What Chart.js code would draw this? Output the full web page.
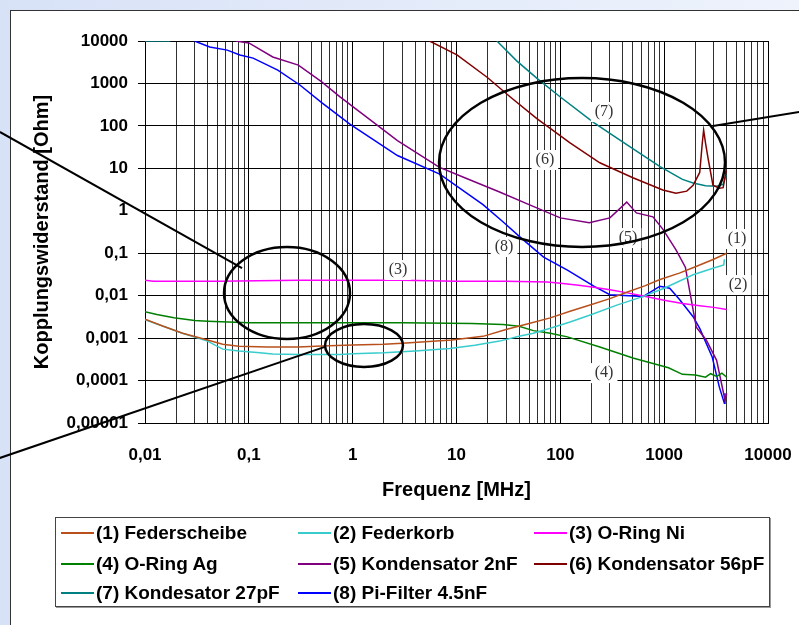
<!DOCTYPE html>
<html>
<head>
<meta charset="utf-8">
<script src="https://cdn.jsdelivr.net/npm/chart.js@4/dist/chart.umd.min.js"></script>
<style>
  body { margin: 0; width: 799px; height: 625px; overflow: hidden;
         background: linear-gradient(to right, #d8e2f7, #eef3fc); font-family: "Liberation Sans", Arial, sans-serif; }
  #frame { position: absolute; left: 10px; top: 10px; width: 789px; height: 615px; background: #fff;
           border-left: 1px solid #333; border-top: 1px solid #333; box-sizing: border-box; }
  #c { position: absolute; left: 0; top: 0; }
  #legend { position: absolute; left: 55px; top: 517px; width: 715px; height: 90px; box-sizing: border-box;
            border: 1px solid #444; box-shadow: 1px 1px 0 #999; background: #fff; }
  .item { position: absolute; font-weight: bold; font-size: 19px; line-height: 22px; white-space: nowrap; color: #000; }
  .item span.ln { display: inline-block; width: 33px; height: 2px; vertical-align: middle; margin-right: 2px; position: relative; top: -1px; }
</style>
</head>
<body>
<div id="frame"></div>
<canvas id="c" width="799" height="625"></canvas>
<div id="legend"></div>
<script>
// series names and colours
const seriesNames = ['(1) Federscheibe', '(2) Federkorb', '(3) O-Ring Ni', '(4) O-Ring Ag',
                     '(5) Kondensator 2nF', '(6) Kondensator 56pF', '(7) Kondesator 27pF', '(8) Pi-Filter 4.5nF'];
const seriesColors = ['#b8501c', '#38cccc', '#ff00ff', '#008000', '#800080', '#800000', '#008080', '#0000ff'];

// frequencies [MHz] and coupling resistance [Ohm]
const f1 = [0.01, 0.015, 0.023, 0.04, 0.056, 0.08, 0.15, 0.3, 0.5, 1, 2, 3, 5, 9, 18, 30, 50, 80, 124, 200, 300, 436, 650, 912, 1400, 2000, 3000, 4000];
const z1 = [0.0028, 0.0019, 0.0013, 0.0009, 0.00072, 0.00064, 0.00062, 0.00062, 0.00065, 0.00069, 0.00072, 0.00076, 0.00082, 0.0009, 0.0011, 0.0016, 0.0022, 0.003, 0.0043, 0.0062, 0.0085, 0.012, 0.017, 0.024, 0.034, 0.048, 0.072, 0.1];

const f2 = [0.01, 0.015, 0.023, 0.04, 0.056, 0.08, 0.12, 0.17, 0.3, 0.5, 0.75, 1, 2, 4, 8.6, 15, 26, 40, 55, 80, 124, 200, 350, 620, 1000, 1900, 3000, 3750, 3800];
const z2 = [0.0027, 0.0019, 0.0013, 0.00085, 0.00055, 0.0005, 0.00046, 0.00042, 0.00041, 0.00041, 0.00041, 0.00043, 0.00045, 0.0005, 0.00057, 0.00068, 0.00085, 0.0011, 0.0013, 0.0017, 0.0024, 0.0036, 0.006, 0.0095, 0.015, 0.031, 0.045, 0.053, 0.072];

const f3 = [0.01, 0.012, 0.05, 0.3, 1, 3, 10, 30, 75, 100, 150, 210, 300, 430, 630, 1000, 1500, 2200, 3000, 4000];
const z3 = [0.023, 0.022, 0.022, 0.023, 0.023, 0.023, 0.022, 0.022, 0.021, 0.0195, 0.0175, 0.0158, 0.0138, 0.0118, 0.0098, 0.0078, 0.0065, 0.0058, 0.0053, 0.0047];

const f4 = [0.01, 0.013, 0.019, 0.03, 0.04, 0.1, 0.3, 1, 3, 14, 28, 40, 55, 80, 117, 240, 500, 1100, 1500, 2000, 2500, 2800, 3200, 3600, 4000];
const z4 = [0.0042, 0.0036, 0.003, 0.0026, 0.0025, 0.0023, 0.0023, 0.0023, 0.0023, 0.0022, 0.0021, 0.0019, 0.0015, 0.0013, 0.00107, 0.00062, 0.00034, 0.0002, 0.00014, 0.000135, 0.00012, 0.000145, 0.000125, 0.00015, 0.00012];

const f5 = [0.075, 0.1, 0.17, 0.3, 0.5, 0.75, 1.17, 2.7, 6.8, 12, 26, 50, 100, 190, 300, 436, 540, 780, 970, 1300, 1600, 1900, 2040, 2550, 3200, 3850, 4000];
const z5 = [10000, 9000, 4200, 2700, 1100, 490, 213, 45, 10.7, 6, 2.76, 1.4, 0.68, 0.52, 0.68, 1.6, 0.89, 0.72, 0.37, 0.12, 0.047, 0.0046, 0.0018, 0.00089, 0.0003, 0.000035, 0.00005];

const f6 = [5.5, 10.1, 19.7, 33, 59, 124, 240, 500, 970, 1300, 1650, 1900, 2200, 2330, 2400, 2500, 2650, 2950, 3400, 3700, 3950];
const z6 = [10000, 4700, 1400, 480, 150, 40, 13.5, 6.0, 3.1, 2.6, 2.9, 4.0, 8, 40, 80, 40, 17, 4.0, 3.4, 3.5, 9];

const f7 = [0.01, 0.0175, 0.02, 24.5, 38, 60, 100, 210, 436, 912, 1500, 1900, 2500, 3200, 3700, 3950];
const z7 = [10000, 10000, null, 10000, 3400, 1300, 480, 120, 36, 11, 5.5, 4.5, 3.9, 3.8, 4.2, 7];

const f8 = [0.03, 0.042, 0.062, 0.082, 0.11, 0.19, 0.31, 0.51, 0.94, 2.7, 6.9, 18, 28, 41, 69, 117, 210, 300, 630, 912, 1130, 1400, 1900, 2200, 2900, 3400, 3800, 3850];
const z8 = [10000, 7200, 6100, 4700, 3950, 2070, 920, 345, 110, 20, 7.3, 1.4, 0.55, 0.24, 0.081, 0.04, 0.0167, 0.0105, 0.0096, 0.0167, 0.015, 0.0082, 0.0032, 0.0017, 0.00036, 0.00007, 0.000029, 0.00005];

const freqs = [f1, f2, f3, f4, f5, f6, f7, f8];
const values = [z1, z2, z3, z4, z5, z6, z7, z8];

// tick labels (German decimal comma)
const xTickValues = [0.01, 0.1, 1, 10, 100, 1000, 10000];
const xTickLabels = ['0,01', '0,1', '1', '10', '100', '1000', '10000'];
const yTickValues = [0.00001, 0.0001, 0.001, 0.01, 0.1, 1, 10, 100, 1000, 10000];
const yTickLabels = ['0,00001', '0,0001', '0,001', '0,01', '0,1', '1', '10', '100', '1000', '10000'];

// curve tags "(n)" placed in data space
const tagText = ['(1)', '(2)', '(3)', '(4)', '(5)', '(6)', '(7)', '(8)'];
const tagFreq = [5030, 5140, 2.73, 264, 449, 71, 264, 28.7];
const tagVal  = [0.216, 0.0178, 0.0402, 0.00015, 0.228, 15.7, 212, 0.14];

// hand-drawn ellipses [fMin, fMax, zMin, zMax] and pointer lines [f1, z1, f2, z2]
const ellipses = [[6.79, 3857, 0.14, 1343], [0.0577, 0.942, 0.00095, 0.14], [0.542, 3.05, 0.00021, 0.00215]];
const pointers = [[0.0004, 71.8, 0.086, 0.0448], [0.0004, 0.0000015, 0.54, 0.00062], [2950, 100, 19900, 212]];

const annotate = {
    id: 'annotate',
    afterDatasetsDraw(chart) {
        const ctx = chart.ctx;
        const x = chart.scales.x, y = chart.scales.y;
        ctx.save();
        ctx.font = '16px "Liberation Serif", "Times New Roman", serif';
        ctx.textAlign = 'center';
        ctx.textBaseline = 'middle';
        tagText.forEach((t, i) => {
            const px = x.getPixelForValue(tagFreq[i]);
            const py = y.getPixelForValue(tagVal[i]);
            const w = ctx.measureText(t).width + 8;
            ctx.fillStyle = '#fff';
            ctx.fillRect(px - w / 2, py - 10, w, 20);
            ctx.fillStyle = '#333';
            ctx.fillText(t, px, py);
        });
        ctx.strokeStyle = '#000';
        ctx.lineWidth = 2.5;
        ellipses.forEach(e => {
            const l = x.getPixelForValue(e[0]), r = x.getPixelForValue(e[1]);
            const b = y.getPixelForValue(e[2]), t = y.getPixelForValue(e[3]);
            ctx.beginPath();
            ctx.ellipse((l + r) / 2, (t + b) / 2, (r - l) / 2, (b - t) / 2, 0, 0, 2 * Math.PI);
            ctx.stroke();
        });
        ctx.lineWidth = 2;
        pointers.forEach(p => {
            ctx.beginPath();
            ctx.moveTo(x.getPixelForValue(p[0]), y.getPixelForValue(p[1]));
            ctx.lineTo(x.getPixelForValue(p[2]), y.getPixelForValue(p[3]));
            ctx.stroke();
        });
        ctx.restore();
    }
};

const datasets = seriesNames.map((name, i) => ({
    label: name,
    data: freqs[i].map((f, j) => ({ x: f, y: values[i][j] })),
    borderColor: seriesColors[i],
    backgroundColor: seriesColors[i],
    borderWidth: 1.5,
    pointRadius: 0,
    tension: 0
}));

new Chart(document.getElementById('c').getContext('2d'), {
    type: 'line',
    data: { datasets: datasets },
    options: {
        responsive: false,
        animation: false,
        layout: { padding: { left: 0, top: 41, right: 31, bottom: 123 } },
        plugins: { legend: { display: false }, tooltip: { enabled: false } },
        scales: {
            x: {
                type: 'logarithmic',
                min: 0.01, max: 10000,
                afterFit: s => { s.height = 79; s.paddingLeft = 0; s.paddingRight = 0; },
                afterBuildTicks: s => {
                    const t = [];
                    for (let d = 0; d < xTickValues.length - 1; d++) {
                        for (let k = 1; k < 10; k++) t.push({ value: xTickValues[d] * k });
                    }
                    t.push({ value: 10000 });
                    s.ticks = t;
                },
                grid: {
                    color: ctx => (ctx.tick && xTickValues.some(v => Math.abs(v - ctx.tick.value) < v * 1e-9)) ? '#000' : '#303030',
                    lineWidth: 1,
                    drawTicks: false
                },
                border: { color: '#000', width: 1 },
                ticks: {
                    autoSkip: false, maxRotation: 0, padding: 22, color: '#000',
                    font: { family: '"Liberation Sans", Arial', size: 17, weight: 'bold' },
                    callback: v => {
                        const i = xTickValues.findIndex(t => Math.abs(t - v) < t * 1e-9);
                        return i >= 0 ? xTickLabels[i] : '';
                    }
                },
                title: {
                    display: true, text: 'Frequenz [MHz]', color: '#000', padding: { top: 0, bottom: 0 },
                    font: { family: '"Liberation Sans", Arial', size: 20, weight: 'bold' }
                }
            },
            y: {
                type: 'logarithmic',
                min: 0.00001, max: 10000,
                afterFit: s => { s.width = 145; s.paddingTop = 0; s.paddingBottom = 0; },
                afterBuildTicks: s => { s.ticks = yTickValues.map(v => ({ value: v })); },
                grid: { color: '#000', lineWidth: 1, tickLength: 7, tickColor: '#000' },
                border: { color: '#000', width: 1 },
                ticks: {
                    autoSkip: false, padding: 10, color: '#000',
                    font: { family: '"Liberation Sans", Arial', size: 17, weight: 'bold' },
                    callback: (v, i) => yTickLabels[i]
                },
                title: {
                    display: true, text: 'Kopplungswiderstand [Ohm]', color: '#000', padding: { top: 30, bottom: 0 },
                    font: { family: '"Liberation Sans", Arial', size: 20, weight: 'bold' }
                }
            }
        }
    },
    plugins: [annotate]
});

// legend, three columns
const legendCols = [5, 242, 478];
const legendRows = [4, 35, 64];
const legend = document.getElementById('legend');
seriesNames.forEach((name, i) => {
    const item = document.createElement('div');
    item.className = 'item';
    item.style.left = legendCols[i % 3] + 'px';
    item.style.top = legendRows[Math.floor(i / 3)] + 'px';
    item.innerHTML = '<span class="ln" style="background:' + seriesColors[i] + '"></span>' + name;
    legend.appendChild(item);
});
</script>
</body>
</html>
